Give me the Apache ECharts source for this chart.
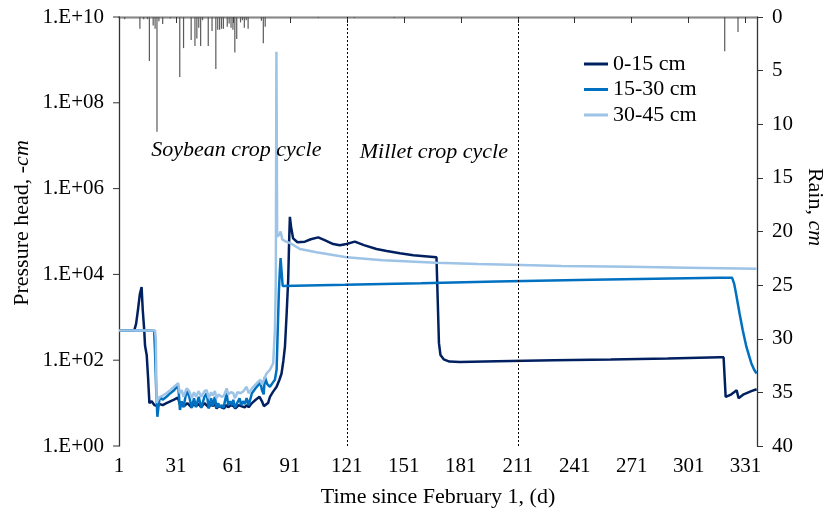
<!DOCTYPE html>
<html>
<head>
<meta charset="utf-8">
<script src="https://cdn.jsdelivr.net/npm/echarts@6/dist/echarts.min.js"></script>
<style>
  html, body { margin: 0; padding: 0; background: #fff; }
  #chart { width: 824px; height: 515px; }
</style>
</head>
<body>
<div id="chart"></div>
<script>
// Pressure head (-cm) at three depths, as [day, value] pairs
const head0to15 = [
  [1, 490], [9, 490], [10, 700], [11, 1500], [12, 3500], [12.9, 5100], [13.5, 1500], [14.3, 490],
  [14.7, 220], [15.6, 130], [16.3, 40], [17, 10], [18.2, 11], [19.6, 9], [20.5, 10], [21.2, 8.5],
  [22.5, 9.5], [24, 9], [26, 10], [28, 11], [30, 12], [32, 13.5], [33.2, 9], [34.5, 10], [35.3, 8.5],
  [37, 10], [39.2, 8], [40.5, 10], [41.5, 8.5], [43, 9.5], [44.3, 8], [46, 10], [48.2, 8], [49.5, 9.5],
  [50.3, 8.5], [51.5, 9.5], [52.4, 7.5], [53.5, 8.5], [55, 8], [56.3, 7.5], [57.5, 9], [58.5, 8],
  [60, 9], [61.3, 8.5], [62.3, 7.5], [64, 9], [65.3, 8.5], [67.2, 8], [68.5, 9], [69.3, 8], [71, 10],
  [73, 12], [75, 14], [76.3, 11], [77.3, 8.5], [78.3, 8], [79.5, 10], [80.5, 14], [82, 18], [84, 24],
  [85.5, 35], [86.6, 49], [87.6, 100], [88.4, 206], [89.3, 1240], [90.1, 7400], [90.6, 60000],
  [91, 220000], [91.6, 130000], [92.7, 69000], [95, 56000], [98.9, 58000], [102, 66000],
  [105.9, 73000], [109, 64000], [113.8, 51000], [117.3, 48000], [120.8, 51000], [125.2, 58000],
  [130, 48000], [136.6, 39000], [142, 35000], [148.9, 31000], [156, 28000], [162, 26500],
  [168.2, 25000], [169, 1500], [169.5, 250], [170.3, 132], [172, 105], [175, 93], [180.5, 91],
  [200, 95], [230, 100], [260, 104], [290, 110], [317.3, 117], [319.4, 117], [320.5, 14], [323, 15.5],
  [326.3, 20], [327.3, 13], [330, 16], [334, 19], [336.8, 21]
];
const head15to30 = [
  [1, 490], [18.2, 490], [19.5, 480], [20, 150], [20.6, 20], [21.2, 4.8], [22, 10], [22.6, 14],
  [24, 12], [26, 14], [28, 17], [30, 20], [32.2, 26], [33.1, 6.9], [34, 11], [35, 8], [36.6, 20],
  [38, 14], [39.3, 7.7], [40.5, 13], [41.5, 8], [43, 14], [44.3, 7.7], [46, 14], [47.2, 17],
  [48.3, 7.5], [49.5, 13], [50.3, 8.5], [51.5, 14], [52.4, 7.7], [53.2, 10], [54, 8], [55.1, 9],
  [56, 7.7], [57.7, 17], [58.5, 9], [59.5, 11], [60.5, 9], [61.2, 12], [62, 7.7], [63.2, 10],
  [64.5, 13], [65.3, 9], [66.3, 11], [67.3, 9.5], [68.2, 13], [69.3, 9], [71, 17], [73.5, 24],
  [75.5, 30], [76.3, 20], [77.2, 16], [77.8, 41], [79, 28], [80.5, 24], [82, 30], [83.1, 35],
  [84, 60], [84.6, 500], [85.2, 4000], [85.7, 12000], [86.1, 24000], [86.6, 12000], [87.2, 5400],
  [120, 5700], [160, 6200], [200, 6800], [250, 7500], [300, 8100], [317, 8300], [323.9, 8300],
  [325, 6000], [326, 3500], [327.8, 1240], [329.5, 500], [331.4, 206], [333, 120], [334, 85],
  [335.5, 60], [336.8, 49]
];
const head30to45 = [
  [1, 490], [20, 490], [20.4, 300], [20.8, 10], [21.5, 12], [22.6, 14], [24, 15], [26, 17], [28, 20],
  [30, 24], [32.2, 29], [33, 17], [34, 20], [35, 14], [36.6, 22], [38, 19], [39.3, 13], [40.5, 18],
  [41.5, 14], [43, 19], [44.3, 14], [46, 19], [47.2, 20], [48.3, 13], [49.5, 18], [50.3, 15],
  [51.5, 19], [52.4, 13], [53.5, 16], [55, 14], [56.3, 15], [57.7, 22], [58.5, 16], [60, 18],
  [61.2, 17], [62, 13], [63.5, 18], [65, 17], [66.5, 19], [68.2, 24], [69.3, 17], [71, 22],
  [73.5, 29], [75.5, 35], [76.3, 27], [77.2, 30], [78.7, 49], [80.5, 60], [82.2, 85], [83.1, 500],
  [83.6, 7400], [83.9, 1.55e9], [84.3, 76000], [85.5, 85000], [86.1, 100000], [87, 65000],
  [89, 58000], [91, 54000], [96.3, 39000], [105, 33000], [120.8, 25000], [140, 21500],
  [168.2, 18700], [190, 17500], [212.8, 16600], [234, 15800], [270, 15000], [300, 14300],
  [336.8, 13500]
];

// Daily rainfall
const rainDays = [4, 12, 14, 16, 17, 19, 20, 21, 22, 24, 28, 33, 35, 39, 41, 42, 43, 44, 45, 48, 50,
  52, 53, 54, 55, 56, 58, 59, 60, 61, 62, 63, 65, 66, 67, 68, 69, 76, 77, 78, 106, 125, 146, 320, 327];
const rainAmounts = [0.2, 1.1, 0.2, 0.2, 4.1, 0.8, 1.1, 10.7, 0.4, 0.65, 0.15, 5.6, 2.9, 2.15, 2.7,
  2.0, 1.0, 2.7, 0.3, 2.7, 1.3, 4.85, 1.2, 1.2, 1.1, 1.1, 0.9, 0.6, 1.0, 1.2, 3.3, 2.05, 0.5, 0.3,
  1.0, 0.3, 1.1, 0.35, 2.45, 0.9, 0.1, 0.1, 0.1, 3.2, 1.4];

// Pressure-head axis ticks (every second decade)
const headTicks = [1, 1e2, 1e4, 1e6, 1e8, 1e10];

const seriesNames = ['0-15 cm', '15-30 cm', '30-45 cm'];
const cycleBoundaries = [121, 211];
const cycleLabels = [
  { text: 'Soybean crop cycle', at: [62.8, 7.9e6] },
  { text: 'Millet crop cycle', at: [166.8, 7.1e6] }
];

const FONT = 'Liberation Serif';
const colors = ['#002060', '#0070C0', '#9DC3E6'];
const GRID = { left: 119, right: 67, top: 17, bottom: 69 };

const chart = echarts.init(document.getElementById('chart'), null, { renderer: 'canvas' });

const rainData = rainDays.map((d, i) => [d, rainAmounts[i]]);

function lineSeries(name, data, color, extra) {
  return Object.assign({
    name: name,
    type: 'line',
    data: data,
    xAxisIndex: 0,
    yAxisIndex: 0,
    showSymbol: false,
    symbol: 'none',
    lineStyle: { color: color, width: 2.5 },
    itemStyle: { color: color },
    z: 3
  }, extra || {});
}

function expLabel(v) {
  const e = Math.round(Math.log10(v));
  return '1.E+' + (e < 10 ? '0' + e : String(e));
}

const option = {
  animation: false,
  backgroundColor: '#fff',
  textStyle: { fontFamily: FONT, color: '#000' },
  grid: {
    left: GRID.left, right: GRID.right, top: GRID.top, bottom: GRID.bottom,
    containLabel: false,
    outerBoundsMode: 'none'
  },
  legend: {
    data: seriesNames,
    orient: 'vertical',
    left: 579,
    top: 48,
    itemWidth: 24,
    itemHeight: 3,
    itemGap: 3.5,
    icon: 'rect',
    textStyle: { fontFamily: FONT, fontSize: 22, color: '#000' }
  },
  xAxis: [
    {
      type: 'value',
      min: 1,
      max: 337,
      interval: 30,
      position: 'bottom',
      name: 'Time since February 1, (d)',
      nameLocation: 'middle',
      nameGap: 40,
      nameTextStyle: { fontFamily: FONT, fontSize: 22, color: '#000' },
      axisLine: { show: true, lineStyle: { color: '#333', width: 1.3 } },
      axisTick: { show: true, inside: false, length: 6, lineStyle: { color: '#333' } },
      axisLabel: { fontFamily: FONT, fontSize: 21, color: '#000', margin: 10, showMaxLabel: false },
      splitLine: { show: false }
    },
    {
      type: 'value',
      min: 1,
      max: 337,
      position: 'top',
      axisLine: { show: true, lineStyle: { color: '#888', width: 1.3 } },
      axisTick: { show: false },
      axisLabel: { show: false },
      splitLine: { show: false }
    }
  ],
  yAxis: [
    {
      type: 'log',
      logBase: 10,
      min: 1,
      max: 1e10,
      position: 'left',
      name: '{a|Pressure head, }{b|-cm}',
      nameLocation: 'middle',
      nameRotate: 90,
      nameGap: 86,
      nameTextStyle: {
        padding: [0, 0, 0, 17],
        rich: {
          a: { fontFamily: FONT, fontSize: 22, color: '#000' },
          b: { fontFamily: FONT, fontSize: 22, color: '#000', fontStyle: 'italic' }
        }
      },
      axisLine: { show: true, lineStyle: { color: '#333', width: 1.3 } },
      axisTick: { show: false },
      axisLabel: { show: false },
      splitLine: { show: false }
    },
    {
      type: 'value',
      min: 0,
      max: 40,
      interval: 5,
      inverse: true,
      position: 'right',
      name: '{a|Rain, }{b|cm}',
      nameLocation: 'middle',
      nameRotate: -90,
      nameGap: 44,
      nameTextStyle: {
        padding: [0, 49, 0, 0],
        rich: {
          a: { fontFamily: FONT, fontSize: 22, color: '#000' },
          b: { fontFamily: FONT, fontSize: 22, color: '#000', fontStyle: 'italic' }
        }
      },
      axisLine: { show: true, lineStyle: { color: '#333', width: 1.3 } },
      axisTick: { show: true, inside: false, length: 6, lineStyle: { color: '#333' } },
      axisLabel: { fontFamily: FONT, fontSize: 21, color: '#000', margin: 15 },
      splitLine: { show: false }
    }
  ],
  series: [
    {
      name: 'Rain',
      type: 'bar',
      xAxisIndex: 1,
      yAxisIndex: 1,
      data: rainData,
      barWidth: 1.2,
      itemStyle: { color: '#5a5a5a' },
      z: 1
    },
    lineSeries(seriesNames[0], head0to15, colors[0], {
      markLine: {
        silent: true,
        symbol: ['none', 'none'],
        label: { show: false },
        lineStyle: { color: '#000', type: [2, 2], width: 1 },
        data: cycleBoundaries.map(d => ({ xAxis: d }))
      }
    }),
    lineSeries(seriesNames[1], head15to30, colors[1]),
    lineSeries(seriesNames[2], head30to45, colors[2])
  ]
};

chart.setOption(option);

// Decade ticks and labels of the pressure-head axis, placed through the axis scale
const tickGraphics = [];
headTicks.forEach(v => {
  const y = chart.convertToPixel({ yAxisIndex: 0 }, v);
  tickGraphics.push({
    type: 'line',
    shape: { x1: GRID.left - 6, y1: y, x2: GRID.left, y2: y },
    style: { stroke: '#333', lineWidth: 1 },
    z: 5
  });
  tickGraphics.push({
    type: 'text',
    x: GRID.left - 15,
    y: y,
    style: {
      text: expLabel(v),
      fontFamily: FONT,
      fontSize: 21,
      fill: '#000',
      align: 'right',
      verticalAlign: 'middle'
    },
    z: 5
  });
});

// Crop-cycle captions anchored to data coordinates
const captionGraphics = cycleLabels.map(c => {
  const p = chart.convertToPixel({ xAxisIndex: 0, yAxisIndex: 0 }, c.at);
  return {
    type: 'text',
    x: p[0],
    y: p[1],
    style: {
      text: c.text,
      fontFamily: FONT,
      fontSize: 22,
      fontStyle: 'italic',
      fill: '#000',
      align: 'center',
      verticalAlign: 'middle'
    },
    z: 10
  };
});

chart.setOption({ graphic: tickGraphics.concat(captionGraphics) });
</script>
</body>
</html>
